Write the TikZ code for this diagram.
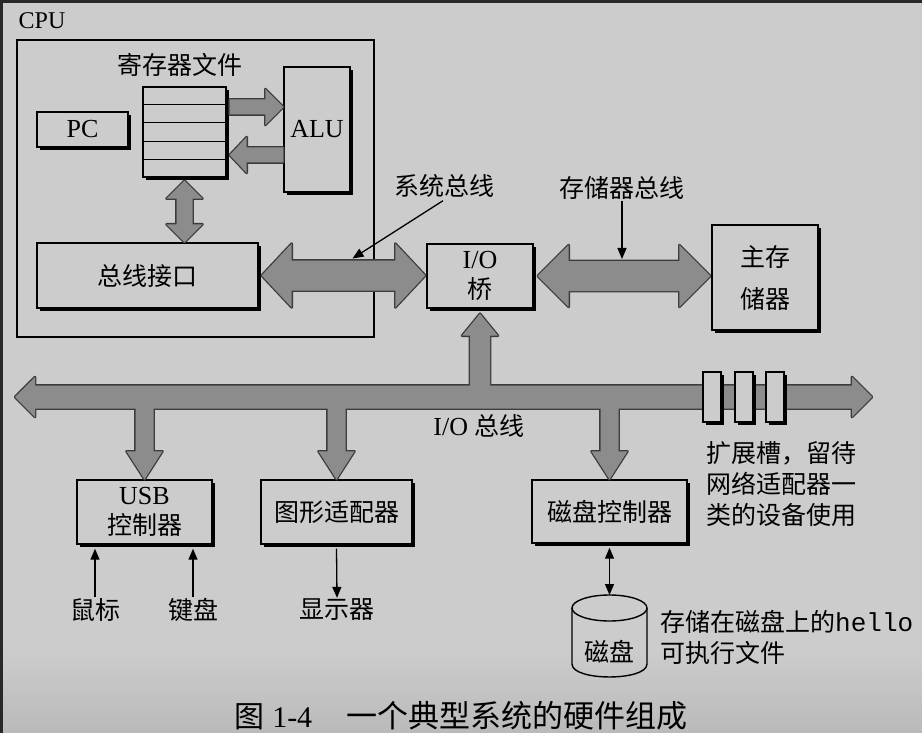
\documentclass[tikz,border=0pt]{standalone}
\usepackage{fontspec}
\setmainfont{Liberation Serif}
\setmonofont{Liberation Mono}
\newfontfamily\cjk{Noto Sans CJK SC}
\usetikzlibrary{calc,shadows,arrows.meta}
\definecolor{bg}{RGB}{204,204,204}
\definecolor{bgdark}{RGB}{186,186,186}
\definecolor{edge}{RGB}{40,40,40}
\definecolor{fatgray}{RGB}{140,140,140}
\definecolor{fatedge}{RGB}{60,60,60}
% horizontal double fat arrow: opts, left tip, right tip, shaft half, head half, head length
\newcommand\hdbl[6]{\path[#1] (#2) -- ($(#2)+(#6,-#5)$) -- ($(#2)+(#6,-#4)$) -- ($(#3)+(-#6,-#4)$) -- ($(#3)+(-#6,-#5)$) -- (#3) -- ($(#3)+(-#6,#5)$) -- ($(#3)+(-#6,#4)$) -- ($(#2)+(#6,#4)$) -- ($(#2)+(#6,#5)$) -- cycle;}
% vertical double fat arrow: opts, top tip, bottom tip, shaft half, head half, head length
\newcommand\vdbl[6]{\path[#1] (#2) -- ($(#2)+(#5,#6)$) -- ($(#2)+(#4,#6)$) -- ($(#3)+(#4,-#6)$) -- ($(#3)+(#5,-#6)$) -- (#3) -- ($(#3)+(-#5,-#6)$) -- ($(#3)+(-#4,-#6)$) -- ($(#2)+(-#4,#6)$) -- ($(#2)+(-#5,#6)$) -- cycle;}
% horizontal single fat arrow: opts, tail, tip, shaft half, head half, signed head length (+ = points right)
\newcommand\hsgl[6]{\path[#1] ($(#2)+(0,-#4)$) -- ($(#3)+({-(#6)},-#4)$) -- ($(#3)+({-(#6)},-#5)$) -- (#3) -- ($(#3)+({-(#6)},#5)$) -- ($(#3)+({-(#6)},#4)$) -- ($(#2)+(0,#4)$) -- cycle;}
% vertical single fat arrow: opts, tail, tip, shaft half, head half, signed head length (+ = points down)
\newcommand\vsgl[6]{\path[#1] ($(#2)+(-#4,0)$) -- ($(#3)+(-#4,{-(#6)})$) -- ($(#3)+(-#5,{-(#6)})$) -- (#3) -- ($(#3)+(#5,{-(#6)})$) -- ($(#3)+(#4,{-(#6)})$) -- ($(#2)+(#4,0)$) -- cycle;}
\newcommand\fatarrows[1]{%
 \hsgl{#1}{r2aT}{r2aH}{7.5}{18}{18}
 \hsgl{#1}{a2rT}{a2rH}{7.5}{18}{-17}
 \vdbl{#1}{rbA}{rbB}{8}{18}{18}
 \hdbl{#1}{sbL}{sbR}{15}{32}{30}
 \hdbl{#1}{mbL}{mbR}{15}{31}{31}
 \vsgl{#1}{stT}{stH}{10}{18}{-22}
 \vsgl{#1}{d1T}{d1H}{9}{18}{28}
 \vsgl{#1}{d2T}{d2H}{9}{18}{28}
 \vsgl{#1}{d3T}{d3H}{9}{18}{28}
 \hdbl{#1}{ioL}{ioR}{11.5}{20}{20}
}
\begin{document}
\begin{tikzpicture}[x=1pt,y=-1pt,
  box/.style={draw=black, line width=1.4pt, fill=bg, inner sep=0pt,
    drop shadow={shadow xshift=3pt, shadow yshift=-3pt, fill=black, opacity=1}},
  lat/.style={font=\fontsize{26}{30}\selectfont},
  zh/.style={font=\cjk\fontsize{25}{31}\selectfont, inner sep=1pt},
  thinarr/.style={line width=1.3pt, -{Triangle[length=11pt,width=9pt]}},
  fatline/.style={draw=fatedge, line width=2.6pt, line join=round},
  fatfill/.style={fill=fatgray},
]
% background
\fill[bg] (0,0) rectangle (922,733);
\shade[top color=bg, bottom color=bgdark] (0,650) rectangle (922,733);
\fill[edge] (0,0) rectangle (922,3);
\fill[edge] (0,0) rectangle (3,733);
\path[use as bounding box] (0,0) rectangle (922,733);

% CPU
\node[font=\fontsize{24}{28}\selectfont, inner sep=0pt] (cpul) at (42,21) {CPU};
\node[draw, line width=2pt, minimum width=357pt, minimum height=297pt, inner sep=0pt] (cpu) at (195.5,188.5) {};
\node[zh] (rfl) at (180,65) {寄存器文件};
\node[box, minimum width=83pt, minimum height=90pt] (rf) at (184.5,132) {};
\foreach \f in {1,2,3,4}
  \draw[line width=1.2pt] ($(rf.north west)!\f/5!(rf.south west)$) -- ($(rf.north east)!\f/5!(rf.south east)$);
\node[box, lat, minimum width=91pt, minimum height=35pt] (pc) at (82.5,129.5) {PC};
\node[box, lat, minimum width=66pt, minimum height=125pt] (alu) at (317,129.5) {ALU};
\node[box, zh, inner sep=0pt, minimum width=221pt, minimum height=65pt] (bi) at (147.5,275.5) {总线接口};

% bridge and memory
\node[box, lat, minimum width=106pt, minimum height=64pt, align=center] (iob) at (480,276) {I/O\\{\cjk\fontsize{25}{30}\selectfont 桥}};
\node[box, font=\cjk\fontsize{25}{42}\selectfont, minimum width=106pt, minimum height=105pt, align=center] (mem) at (765,277.5) {主存\\储器};
\node[zh] (sbl) at (444,186) {系统总线};
\node[zh] (mbl) at (622,188) {存储器总线};
\node[lat, inner sep=0pt] (iobl) at (479,426) {I/O {\cjk\fontsize{25}{30}\selectfont 总线}};
\node[zh, align=left, anchor=west] (expl) at (705,484) {扩展槽，留待\\网络适配器一\\类的设备使用};

% devices
\node[box, lat, minimum width=135pt, minimum height=64pt, align=center] (usb) at (144.5,512) {USB\\{\cjk\fontsize{25}{30}\selectfont 控制器}};
\node[box, zh, inner sep=0pt, minimum width=151pt, minimum height=64pt] (gfx) at (336.5,512) {图形适配器};
\node[box, zh, inner sep=0pt, minimum width=155pt, minimum height=63pt] (dctl) at (609.5,511.5) {磁盘控制器};
\node[zh] (ms) at (95,610) {鼠标};
\node[zh] (kb) at (193,610) {键盘};
\node[zh] (dsp) at (337,610) {显示器};
\node[zh] (disk) at (609.5,652) {磁盘};
\node[zh, align=left, anchor=west] (dlbl) at (659,637) {存储在磁盘上的{\ttfamily\fontsize{26}{31}\selectfont hello}\\可执行文件};

% caption
\node[font=\fontsize{30}{36}\selectfont, inner sep=0pt] (cap) at (461,716) {{\cjk\fontsize{30}{36}\selectfont 图} 1-4\hspace{34pt}{\cjk\fontsize{31}{36}\selectfont 一个典型系统的硬件组成}};

% coordinates for fat arrows
\coordinate (r2aT) at ($(rf.east)+(3,-25)$);
\coordinate (r2aH) at (alu.west |- r2aT);
\coordinate (a2rT) at ($(alu.west)+(0,25.5)$);
\coordinate (a2rH) at (r2aT |- a2rT);
\coordinate (rbA) at ($(rf.south)+(0,3)$);
\coordinate (rbB) at (rf.south |- bi.north);
\coordinate (sbL) at ($(bi.east)+(3,0)$);
\coordinate (sbR) at ($(iob.west |- sbL)+(-1,0)$);
\coordinate (mbL) at ($(iob.east)+(4,0)$);
\coordinate (mbR) at ($(mem.west |- mbL)+(-1,0)$);
\coordinate (ioL) at (15,397);
\coordinate (ioR) at (872,397);
\coordinate (stT) at (iob.south |- ioL);
\coordinate (stH) at ($(iob.south)+(0,5)$);
\coordinate (d1T) at (usb.north |- ioL);
\coordinate (d1H) at (usb.north);
\coordinate (d2T) at (gfx.north |- ioL);
\coordinate (d2H) at (gfx.north);
\coordinate (d3T) at (dctl.north |- ioL);
\coordinate (d3H) at (dctl.north);

% fat arrows: outline pass, then fill pass (merged outline)
\fatarrows{fatline}
\fatarrows{fatfill}

% expansion slots
\foreach \i/\x in {1/712,2/744,3/775}
  \node[box, minimum width=18pt, minimum height=50pt] (slot\i) at (\x,397) {};

% disk cylinder
\coordinate (dtop) at ($(disk.center)+(0,-44)$);
\coordinate (dbot) at ($(disk.center)+(0,12)$);
\coordinate (dtopE) at ($(dtop)+(0,-13)$);
\draw[line width=1.4pt] ($(dtop)+(-37.5,0)$) -- ($(dbot)+(-37.5,0)$)
  .. controls ($(dbot)+(-37.5,17.3)$) and ($(dbot)+(37.5,17.3)$) .. ($(dbot)+(37.5,0)$)
  -- ($(dtop)+(37.5,0)$);
\draw[line width=1.4pt] (dtop) ellipse (37.5 and 13);

% thin arrows
\coordinate (sbP) at ($(sbL)!0.555!(sbR)+(0,-17)$);
\coordinate (mbP) at ($(mbL)+(0,-17)$);
\draw[thinarr] ($(sbl.south)+(-1,2)$) -- (sbP);
\draw[thinarr] (mbl.south) -- (mbl.south |- mbP);
\draw[thinarr] (ms.north) -- ($(ms.north |- usb.south)+(0,4)$);
\draw[thinarr] (kb.north) -- ($(kb.north |- usb.south)+(0,4)$);
\draw[thinarr] ($(gfx.south)+(0,4)$) -- (dsp.north);
\draw[line width=1.3pt, {Triangle[length=11pt,width=9pt]}-{Triangle[length=11pt,width=9pt]}] ($(dctl.south)+(0,4)$) -- (dtopE);
\end{tikzpicture}
\end{document}
